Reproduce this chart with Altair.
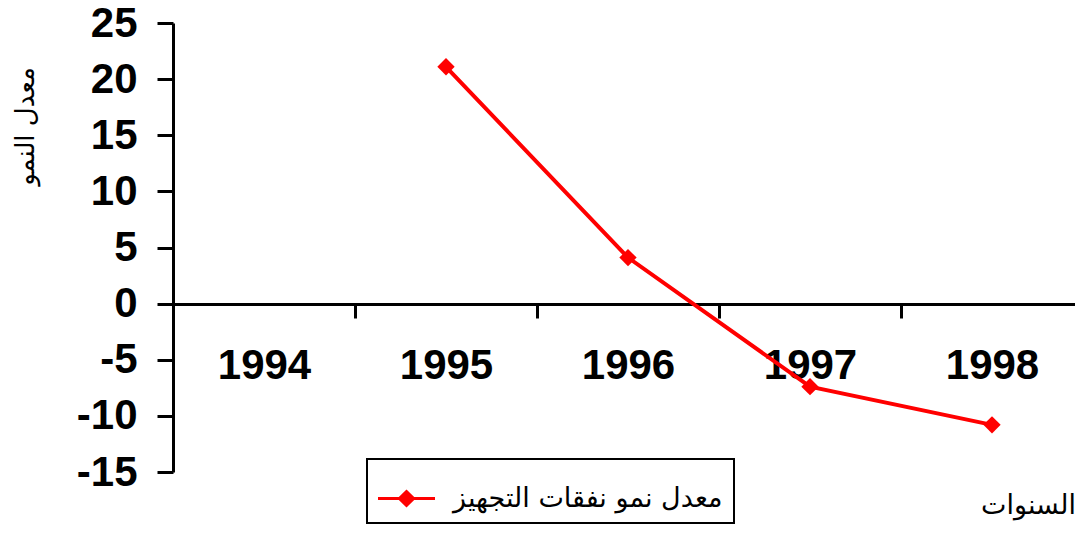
import altair as alt
import pandas as pd

years = ["1994", "1995", "1996", "1997", "1998"]
growth_years = ["1995", "1996", "1997", "1998"]
growth = [21.1, 4.1, -7.4, -10.8]
y_ticks = [-15, -10, -5, 0, 5, 10, 15, 20, 25]
series_name = "معدل نمو نفقات التجهيز"
x_title = "السنوات"
y_title = "معدل النمو"

df = pd.DataFrame({"year": growth_years, "value": growth, "series": [series_name] * len(growth)})

RED = "#FF0000"
LEGEND_PATH = ("M-1,-0.055 L-0.27,-0.055 L0,-0.32 L0.27,-0.055 L1,-0.055 L1,0.055 "
               "L0.27,0.055 L0,0.32 L-0.27,0.055 L-1,0.055 Z")

x_enc = alt.X(
    "year:O",
    scale=alt.Scale(type="band", domain=years, paddingInner=0, paddingOuter=0),
    axis=alt.Axis(
        title=x_title, titleFont="DejaVu Sans", titleFontSize=27, titleFontWeight="normal",
        titleColor="black", titleX=855, titleY=201, titleAlign="center", titleBaseline="middle",
        titleAngle=0,
        offset=-168, labelAngle=0, labelFont="Liberation Sans", labelFontSize=42,
        labelFontWeight="bold", labelColor="black", labelPadding=27,
        tickBand="extent", tickSize=14, tickWidth=3, tickColor="black",
        domainColor="black", domainWidth=3, grid=False, zindex=0,
    ),
)
y_enc = alt.Y(
    "value:Q",
    scale=alt.Scale(domain=[-15, 25], nice=False, zero=False),
    axis=alt.Axis(
        values=y_ticks, labelExpr="'' + datum.value",
        title=y_title, titleFont="DejaVu Sans", titleFontSize=26,
        titleFontWeight="normal", titleColor="black", titleAngle=270,
        titleX=-148, titleY=103, titleAlign="center", titleBaseline="middle",
        labelFont="Liberation Sans", labelFontSize=42, labelFontWeight="bold",
        labelColor="black", labelPadding=20, tickSize=16, tickWidth=3, tickColor="black",
        domainColor="black", domainWidth=3, grid=False,
    ),
)

line = alt.Chart(df).mark_line(color=RED, strokeWidth=4).encode(x=x_enc, y=y_enc)
points = alt.Chart(df).mark_point(shape="diamond", filled=True, size=300, opacity=1, strokeWidth=0).encode(
    x=x_enc,
    y=y_enc,
    fill=alt.Fill(
        "series:N",
        scale=alt.Scale(range=[RED]),
        legend=alt.Legend(
            title=None, orient="none", legendX=194, legendY=436,
            symbolType=LEGEND_PATH, symbolSize=3249, symbolStrokeWidth=0, symbolOpacity=1,
            labelFont="DejaVu Sans", labelFontSize=27, labelColor="black", labelLimit=400,
            labelOffset=18, strokeColor="black", padding=11, cornerRadius=0,
            fillColor="white",
        ),
    ),
)

chart = (
    alt.layer(line, points)
    .properties(
        width=910, height=449,
        autosize=alt.AutoSizeParams(type="none"),
        padding={"left": 165, "top": 15, "right": -8, "bottom": 54},
        background="white",
    )
    .configure_view(stroke=None)
    .configure_legend(strokeWidth=2)
)

chart.save("out.html", embed_options={"renderer": "svg", "actions": False})
